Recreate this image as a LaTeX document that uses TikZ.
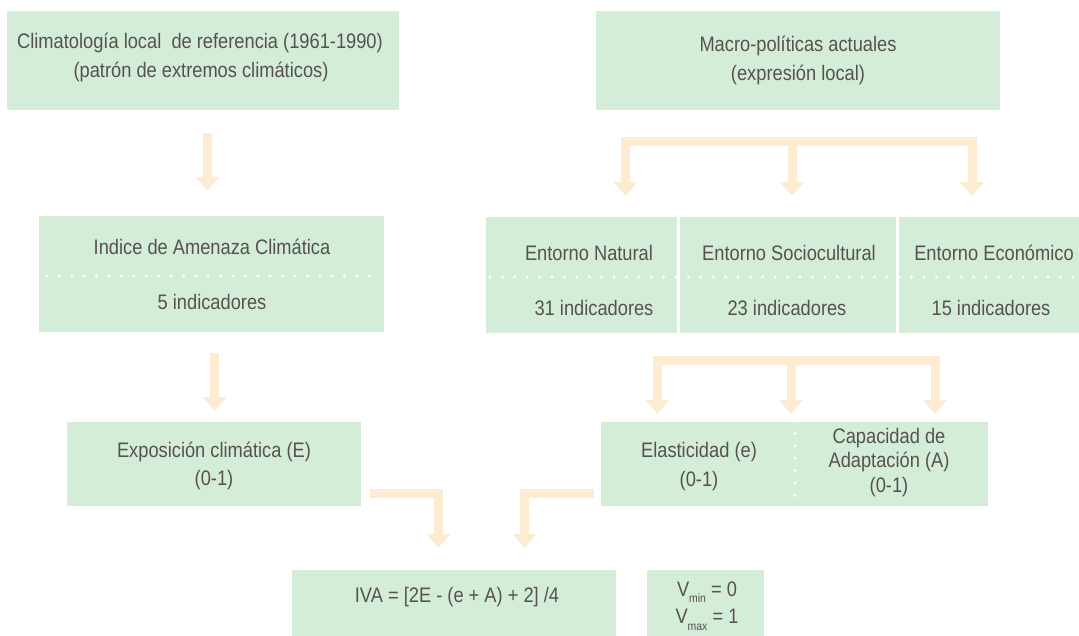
\documentclass[tikz,border=0pt]{standalone}
\usepackage{fontspec}
\setmainfont{Liberation Sans}[FakeStretch=0.87]
\usetikzlibrary{arrows.meta}
\definecolor{boxg}{HTML}{D3EDD8}
\definecolor{arr}{HTML}{FDECD2}
\definecolor{txt}{HTML}{57524C}
\begin{document}
\begin{tikzpicture}[x=1pt,y=-1pt,
  box/.style={fill=boxg, draw=none, inner sep=0pt, anchor=north west},
  lbl/.style={text=txt, font=\fontsize{21}{24}\selectfont, inner sep=0pt},
  tipa/.tip={Triangle[width=23pt,length=14pt]},
  flow/.style={draw=arr, line width=9pt, line join=miter, -tipa},
  flowb/.style={draw=arr, line width=9pt, line join=miter, tipa-tipa},
  dots/.style={white, line width=3.3pt, line cap=round, dash pattern=on 0pt off 12.4pt}]
\useasboundingbox (0,0) rectangle (1079,636);
% boxes
\node[box, minimum width=392pt, minimum height=99pt] (clim) at (7,11) {};
\node[box, minimum width=404pt, minimum height=99pt] (macro) at (596,11) {};
\node[box, minimum width=345pt, minimum height=116pt] (ind) at (39,216) {};
\node[box, minimum width=191pt, minimum height=116pt] (nat) at (486,217) {};
\node[box, minimum width=216pt, minimum height=116pt] (soc) at (680,217) {};
\node[box, minimum width=180pt, minimum height=116pt] (eco) at (899,217) {};
\node[box, minimum width=294pt, minimum height=84pt] (expo) at (67,422) {};
\node[box, minimum width=387pt, minimum height=84pt] (elas) at (601,422) {};
\node[box, minimum width=324pt, minimum height=66pt] (iva) at (292,570) {};
\node[box, minimum width=117pt, minimum height=66pt] (vv) at (647,570) {};
% dotted separators
\draw[dots] (47,276) -- (372,276);
\draw[dots] (490,277) -- (1077,277);
\draw[dots] (795,421) -- (795,506);
% texts
\node[lbl] (t1a) at (200,43) {Climatología local\ \ de referencia (1961-1990)};
\node[lbl] (t1b) at (201,72) {(patrón de extremos climáticos)};
\node[lbl] (t2a) at (798,46) {Macro-políticas actuales};
\node[lbl] (t2b) at (798,75) {(expresión local)};
\node[lbl] (t3a) at (212,247) {Indice de Amenaza Climática};
\node[lbl] (t3b) at (212,302) {5 indicadores};
\node[lbl] (t4a) at (589,253) {Entorno Natural};
\node[lbl] (t4b) at (594,308) {31 indicadores};
\node[lbl] (t5a) at (789,253) {Entorno Sociocultural};
\node[lbl] (t5b) at (787,308) {23 indicadores};
\node[lbl] (t6a) at (994,253) {Entorno Económico};
\node[lbl] (t6b) at (991,308) {15 indicadores};
\node[lbl] (t7a) at (214,452) {Exposición climática (E)};
\node[lbl] (t7b) at (214,480) {(0-1)};
\node[lbl] (t8a) at (699,452) {Elasticidad (e)};
\node[lbl] (t8b) at (699,481) {(0-1)};
\node[lbl] (t9a) at (889,438) {Capacidad de};
\node[lbl] (t9b) at (889,462) {Adaptación (A)};
\node[lbl] (t9c) at (889,487) {(0-1)};
\node[lbl] (t10) at (457,597) {IVA = [2E - (e + A) + 2] /4};
\node[lbl] (t11a) at (707,592) {V\raisebox{-0.6ex}{\fontsize{12}{12}\selectfont min} = 0};
\node[lbl] (t11b) at (707,620) {V\raisebox{-0.6ex}{\fontsize{12}{12}\selectfont max} = 1};
% arrow coordinates
\coordinate (a1s) at (207.5,133); \coordinate (a1e) at (207.5,191);
\coordinate (a2s) at (214.5,353); \coordinate (a2e) at (214.5,411);
\coordinate (b1l) at (625.5,196); \coordinate (b1lc) at (625.5,141.5);
\coordinate (b1m) at (792,141.5); \coordinate (b1me) at (792,196);
\coordinate (b1rc) at (972,141.5); \coordinate (b1r) at (972,196);
\coordinate (b2l) at (657.5,414); \coordinate (b2lc) at (657.5,360.5);
\coordinate (b2m) at (791,360.5); \coordinate (b2me) at (791,414);
\coordinate (b2rc) at (935,360.5); \coordinate (b2r) at (935,414);
\coordinate (l1s) at (370,493.5); \coordinate (l1c) at (438.5,493.5); \coordinate (l1e) at (438.5,548);
\coordinate (l2s) at (594,493.5); \coordinate (l2c) at (524.5,493.5); \coordinate (l2e) at (524.5,548);
% arrows
\draw[flow] (a1s) -- (a1e);
\draw[flow] (a2s) -- (a2e);
\draw[flowb] (b1l) -- (b1lc) -- (b1rc) -- (b1r);
\draw[flow] (b1m) -- (b1me);
\draw[flowb] (b2l) -- (b2lc) -- (b2rc) -- (b2r);
\draw[flow] (b2m) -- (b2me);
\draw[flow] (l1s) -- (l1c) -- (l1e);
\draw[flow] (l2s) -- (l2c) -- (l2e);
\end{tikzpicture}
\end{document}
